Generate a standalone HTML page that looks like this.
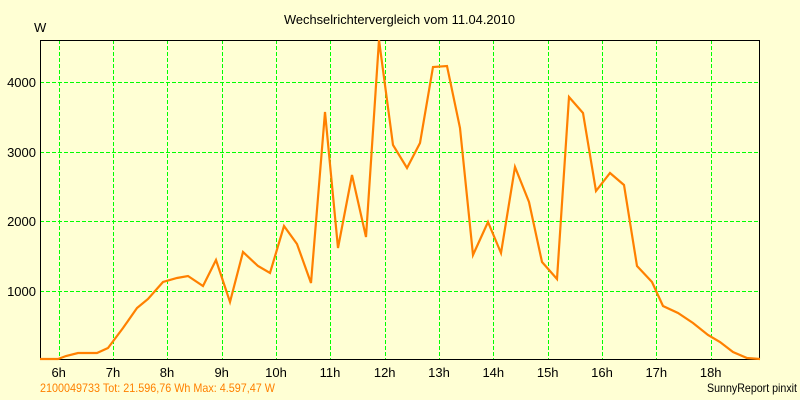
<!DOCTYPE html>
<html><head><meta charset="utf-8"><style>
html,body{margin:0;padding:0;background:#FFFFD4;}
svg{display:block;}
text{font-family:"Liberation Sans",Arial,sans-serif;}
</style></head><body>
<svg width="800" height="400" viewBox="0 0 800 400" xmlns="http://www.w3.org/2000/svg">
<rect x="0" y="0" width="800" height="400" fill="#FFFFD4"/>
<text x="399.5" y="24" font-size="13" text-anchor="middle" fill="#000" textLength="231" lengthAdjust="spacingAndGlyphs">Wechselrichtervergleich vom 11.04.2010</text>
<text x="34" y="32" font-size="13" fill="#000">W</text>
<g stroke="#00FF00" stroke-width="1" stroke-dasharray="4 2" fill="none">
<line x1="40" y1="82.5" x2="759" y2="82.5"/>
<line x1="40" y1="152.5" x2="759" y2="152.5"/>
<line x1="40" y1="221.5" x2="759" y2="221.5"/>
<line x1="40" y1="291.5" x2="759" y2="291.5"/>
<line x1="59.5" y1="40" x2="59.5" y2="359"/>
<line x1="113.5" y1="40" x2="113.5" y2="359"/>
<line x1="167.5" y1="40" x2="167.5" y2="359"/>
<line x1="222.5" y1="40" x2="222.5" y2="359"/>
<line x1="276.5" y1="40" x2="276.5" y2="359"/>
<line x1="330.5" y1="40" x2="330.5" y2="359"/>
<line x1="385.5" y1="40" x2="385.5" y2="359"/>
<line x1="439.5" y1="40" x2="439.5" y2="359"/>
<line x1="493.5" y1="40" x2="493.5" y2="359"/>
<line x1="548.5" y1="40" x2="548.5" y2="359"/>
<line x1="602.5" y1="40" x2="602.5" y2="359"/>
<line x1="656.5" y1="40" x2="656.5" y2="359"/>
<line x1="711.5" y1="40" x2="711.5" y2="359"/>
</g>
<rect x="40.5" y="40.5" width="719" height="319" fill="none" stroke="#000" stroke-width="1"/>
<g font-size="13" fill="#000" text-anchor="end">
<text x="36" y="87">4000</text>
<text x="36" y="157">3000</text>
<text x="36" y="226">2000</text>
<text x="36" y="296">1000</text>
</g>
<g font-size="13" fill="#000" text-anchor="middle">
<text x="58.7" y="377">6h</text>
<text x="113" y="377">7h</text>
<text x="167" y="377">8h</text>
<text x="221.7" y="377">9h</text>
<text x="276" y="377">10h</text>
<text x="330" y="377">11h</text>
<text x="384.7" y="377">12h</text>
<text x="439" y="377">13h</text>
<text x="493.3" y="377">14h</text>
<text x="547.7" y="377">15h</text>
<text x="602" y="377">16h</text>
<text x="656.3" y="377">17h</text>
<text x="710.7" y="377">18h</text>
</g>
<defs><clipPath id="c"><rect x="40" y="40" width="722" height="322"/></clipPath></defs>
<polyline clip-path="url(#c)" fill="none" stroke="#FF8000" stroke-width="2.2" stroke-linejoin="miter" points="40,359 58,359 66,356 78,353 97,353 108,348 123,328 137,308 148,299 163,282 177,278 188,276 203,286 216,260 230,302 243,252 258,266 270,273 284,226 297,244 311,283 325,112 338,248 352,175 366,237 379,40 393,145 407,168 420,143 433,67 447,66 460,128 473,255 488,222 501,253 515,167 529,202 542,262 557,279 569,97 583,113 596,191 610,173 624,185 637,266 652,282 663,306 678,313 693,323 708,335 720,342 733,352 747,358 760,359"/>
<text x="40" y="392" font-size="12" fill="#FF8000" textLength="235" lengthAdjust="spacingAndGlyphs">2100049733 Tot: 21.596,76 Wh Max: 4.597,47 W</text>
<text x="707" y="392" font-size="12" fill="#000" textLength="90" lengthAdjust="spacingAndGlyphs">SunnyReport pinxit</text>
</svg>
</body></html>
